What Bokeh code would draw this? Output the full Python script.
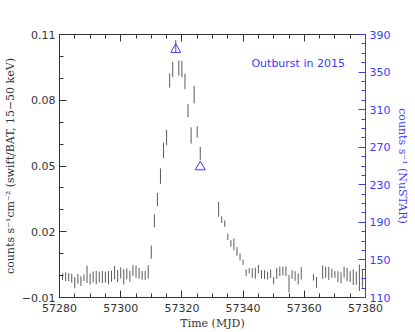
from bokeh.plotting import figure
from bokeh.models import Range1d, LinearAxis, FixedTicker, Label
from bokeh.embed import file_html
from bokeh.resources import INLINE

# ---- data ----
bat_mjd = [57280, 57281, 57282, 57283, 57284, 57285, 57286, 57287, 57288, 57289,
           57290, 57291, 57292, 57293, 57294, 57295, 57296, 57297, 57298, 57299,
           57300, 57301, 57302, 57303, 57304, 57305, 57306, 57307, 57308, 57309,
           57310, 57311, 57312, 57313, 57314, 57315, 57316, 57317, 57318, 57319,
           57320, 57321, 57322, 57323, 57324, 57325, 57326,
           57332, 57333, 57334, 57335, 57336, 57337, 57338, 57339, 57340, 57341,
           57342, 57343, 57344, 57345, 57346, 57347, 57348, 57349, 57350, 57351,
           57352, 57353, 57354, 57355, 57356, 57357, 57358, 57359,
           57363, 57364, 57366, 57367, 57368, 57369, 57370, 57371, 57372, 57373,
           57374, 57375, 57376, 57377, 57378, 57379, 57380]
bat_rate = [0.0001, -0.0005, -0.0005, -0.0007, -0.0012, -0.0032, -0.0015, -0.0025, -0.0010, 0.0006,
            -0.0015, -0.0006, -0.0009, -0.0007, -0.0006, -0.0007, -0.0009, -0.0003, 0.0014, -0.0002,
            0.0012, -0.0006, 0.0008, -0.0003, 0.0023, 0.0018, 0.0010, 0.0001, 0.0001, 0.0017,
            0.0107, 0.0250, 0.0347, 0.0454, 0.0571, 0.0630, 0.0890, 0.0940, 0.1045, 0.0947,
            0.0942, 0.0886, 0.0753, 0.0639, 0.0826, 0.0656, 0.0557,
            0.0302, 0.0255, 0.0237, 0.0177, 0.0147, 0.0142, 0.0110, 0.0085, 0.0061, 0.0013,
            0.0022, 0.0012, 0.0011, 0.0029, 0.0005, 0.0005, 0.0000, 0.0008, -0.0023, 0.0010,
            0.0019, 0.0021, 0.0020, -0.0037, 0.0005, -0.0002, -0.0015, 0.0010,
            -0.0008, -0.0031, 0.0015, 0.0015, 0.0010, 0.0010, 0.0005, -0.0005, -0.0010, 0.0015,
            0.0005, -0.0005, -0.0008, -0.0012, -0.0010, -0.0015, -0.0015]
bat_err = [0.0022, 0.0015, 0.0020, 0.0018, 0.0020, 0.0025, 0.0022, 0.0022, 0.0015, 0.0040,
           0.0025, 0.0025, 0.0030, 0.0025, 0.0028, 0.0025, 0.0030, 0.0025, 0.0030, 0.0028,
           0.0025, 0.0035, 0.0025, 0.0025, 0.0025, 0.0028, 0.0025, 0.0020, 0.0020, 0.0030,
           0.0030, 0.0030, 0.0030, 0.0035, 0.0035, 0.0035, 0.0032, 0.0035, 0.0030, 0.0035,
           0.0037, 0.0035, 0.0030, 0.0037, 0.0040, 0.0026, 0.0030,
           0.0034, 0.0015, 0.0015, 0.0015, 0.0015, 0.0027, 0.0020, 0.0016, 0.0012, 0.0015,
           0.0012, 0.0022, 0.0025, 0.0020, 0.0020, 0.0020, 0.0018, 0.0020, 0.0017, 0.0025,
           0.0022, 0.0020, 0.0022, 0.0040, 0.0020, 0.0022, 0.0025, 0.0028,
           0.0015, 0.0025, 0.0030, 0.0025, 0.0030, 0.0020, 0.0015, 0.0025, 0.0025, 0.0025,
           0.0030, 0.0025, 0.0035, 0.0030, 0.0060, 0.0040, 0.0020]

nustar_mjd = [57318, 57326]
nustar_rate = [374, 249]

left_ticks = [-0.01, 0.02, 0.05, 0.08, 0.11]
left_minor = [-0.01, 0.0, 0.01, 0.02, 0.03, 0.04, 0.05, 0.06, 0.07, 0.08, 0.09, 0.10, 0.11]
right_ticks = [110, 150, 190, 230, 270, 310, 350, 390]
right_minor = list(range(110, 391, 10))
x_ticks = [57280, 57300, 57320, 57340, 57360, 57380]
x_minor = list(range(57280, 57381, 5))

BLUE = "#3b3bff"
DARK = "#333333"

p = figure(width=415, height=332, output_backend="svg", toolbar_location=None,
           x_range=Range1d(57280, 57380), y_range=Range1d(-0.01, 0.11),
           min_border_left=58, min_border_right=50, min_border_top=34,
           min_border_bottom=35, background_fill_color="white",
           border_fill_color="white")
p.extra_y_ranges = {"nustar": Range1d(110, 390)}
p.xgrid.visible = False
p.ygrid.visible = False
p.outline_line_color = None

def style(ax, color):
    ax.axis_line_color = color
    ax.major_tick_line_color = color
    ax.minor_tick_line_color = color
    ax.major_tick_in = 7
    ax.major_tick_out = 0
    ax.minor_tick_in = 4
    ax.minor_tick_out = 0
    ax.major_label_text_color = color
    ax.major_label_text_font = "DejaVu Sans"
    ax.major_label_text_font_size = "11px"
    ax.axis_label_text_font = "DejaVu Serif"
    ax.axis_label_text_font_size = "11px"
    ax.axis_label_text_font_style = "normal"
    ax.axis_label_text_color = color

# bottom axis
xa = p.xaxis[0]
xa.ticker = FixedTicker(ticks=x_ticks, minor_ticks=x_minor)
style(xa, DARK)
xa.axis_label = "Time (MJD)"
xa.major_label_standoff = 6
xa.axis_label_standoff = 2

# left axis
ya = p.yaxis[0]
ya.ticker = FixedTicker(ticks=left_ticks, minor_ticks=left_minor)
style(ya, DARK)
ya.axis_label = "counts s⁻¹cm⁻² (swift/BAT, 15−50 keV)"
ya.major_label_standoff = 4
ya.axis_label_standoff = 2
ya.major_label_overrides = {-0.01: "−0.01"}

# top axis (ticks only)
ta = LinearAxis(ticker=FixedTicker(ticks=x_ticks, minor_ticks=x_minor))
style(ta, DARK)
ta.major_label_overrides = {t: "" for t in x_ticks}
ta.major_label_standoff = 0
p.add_layout(ta, "above")

# right axis (NuSTAR)
ra = LinearAxis(y_range_name="nustar",
                ticker=FixedTicker(ticks=right_ticks, minor_ticks=right_minor))
style(ra, BLUE)
ra.axis_label = "counts s⁻¹ (NuSTAR)"
ra.major_label_standoff = 4
ra.axis_label_standoff = 3
p.add_layout(ra, "right")

# BAT error bars
lo = [r - e for r, e in zip(bat_rate, bat_err)]
hi = [r + e for r, e in zip(bat_rate, bat_err)]
p.segment(x0=bat_mjd, y0=lo, x1=bat_mjd, y1=hi, line_color="#5a5a5a", line_width=1)

# NuSTAR points
p.scatter(nustar_mjd, nustar_rate, y_range_name="nustar", marker="triangle",
          size=10, fill_color=None, line_color=BLUE, line_width=1)

p.add_layout(Label(x=57358, y=0.0968, text="Outburst in 2015", text_color=BLUE,
                   text_font="DejaVu Sans", text_font_size="11px",
                   text_align="center", text_baseline="middle"))

open("out.html", "w").write(file_html(p, INLINE))
